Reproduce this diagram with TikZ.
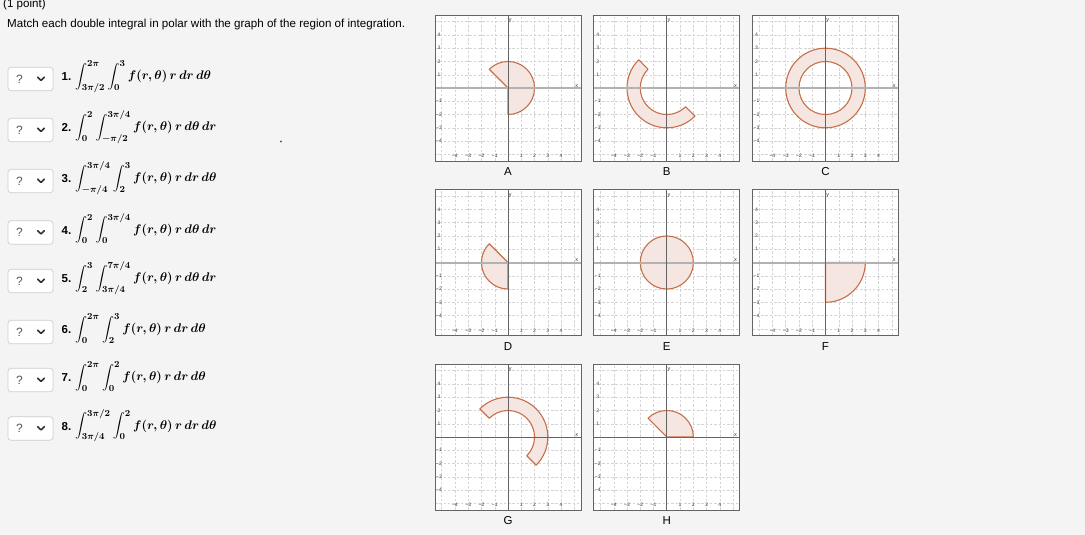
\RequirePackage{fix-cm}
\documentclass[tikz,border=0pt]{standalone}
\usepackage[no-math]{fontspec}
\setmainfont{Liberation Sans}
\usepackage{amsmath}
\DeclareMathSizes{12.5}{12.5}{9.2}{7}
\definecolor{pagebg}{RGB}{244,244,244}
\definecolor{gridc}{RGB}{212,212,212}
\definecolor{framec}{RGB}{100,100,100}
\definecolor{yaxc}{RGB}{100,100,100}
\definecolor{xaxc}{RGB}{178,178,178}
\definecolor{regfill}{RGB}{246,230,225}
\definecolor{regline}{RGB}{198,112,74}
\definecolor{tickc}{RGB}{60,60,60}
\definecolor{ddline}{RGB}{205,205,205}
\definecolor{qcol}{RGB}{85,85,85}
\definecolor{chevc}{RGB}{50,50,50}
\definecolor{dotc}{RGB}{60,100,200}
\tikzset{
  gridln/.style={draw=gridc,line width=0.45pt,dash pattern=on 2.5pt off 1.8pt},
  framebox/.style={draw=framec,line width=0.8pt},
  yaxisln/.style={draw=yaxc,line width=0.8pt},
  xaxisgrey/.style={draw=xaxc,line width=2pt},
  region/.style={fill=regfill,draw=regline,line width=1.1pt,line join=round},
  ticklbl/.style={font=\fontsize{5}{5}\selectfont,text=tickc,inner sep=0pt},
  axlbl/.style={font=\fontsize{5.5}{5.5}\selectfont,text=tickc,inner sep=0pt},
  letterlbl/.style={font=\fontsize{11.5}{13}\selectfont,inner sep=0pt},
  ddbox/.style={draw=ddline,fill=white,rounded corners=3pt,line width=0.7pt,minimum width=45pt,minimum height=23.5pt,inner sep=0pt},
  qmark/.style={font=\fontsize{12}{14}\selectfont,text=qcol,inner sep=0pt},
  chev/.style={draw=chevc,line width=1.6pt,line cap=round,line join=round},
  numlbl/.style={font=\bfseries\fontsize{11.5}{13}\selectfont,inner sep=0pt,anchor=base west},
  intlbl/.style={font=\fontsize{12.5}{14}\selectfont\boldmath,inner sep=0pt,anchor=base west},
  titletxt/.style={font=\fontsize{11.6}{14}\selectfont,inner sep=0pt,anchor=base west}
}
\newcommand\pgraph[5]{%
\begin{scope}[shift={(#1,#2)},x=13.27pt,y=13.27pt]
  \fill[white] (-5.5,-5.5) rectangle (5.5,5.5);
  \foreach \i in {-5,-4,-3,-2,-1,1,2,3,4,5}{
    \draw[gridln] (\i,-5.5) -- (\i,5.5);
    \draw[gridln] (-5.5,\i) -- (5.5,\i);
  }
  #4
  \draw[#5] (-5.5,0) -- (5.5,0);
  \draw[yaxisln] (0,-5.5) -- (0,5.5);
  \draw[framebox] (-5.5,-5.5) rectangle (5.5,5.5);
  \foreach \i/\t in {-4/−4,-3/−3,-2/−2,-1/−1,1/1,2/2,3/3,4/4}{
    \node[ticklbl] (#3x\i) at (\i,-5.12) {\t};
    \node[ticklbl] (#3y\i) at (-5.2,\i) {\t};
  }
  \node[axlbl] (#3xl) at (5.18,0.18) {x};
  \node[axlbl] (#3yl) at (0.17,5.07) {y};
  \node[letterlbl] (#3lbl) at (0,-6.33) {#3};
\end{scope}}
\begin{document}
\begin{tikzpicture}[x=1pt,y=-1pt]
\fill[pagebg] (0,0) rectangle (1085,535);
\useasboundingbox (0,0) rectangle (1085,535);
% header
\node[titletxt] (pts) at (3,7.5) {(1 point)};
\node[titletxt] (title) at (7,27.3) {Match each double integral in polar with the graph of the region of integration.};
\fill[dotc] (281,141.5) circle (1.1);
% rows
\foreach \n/\c in {1/79,2/130,3/181,4/232.5,5/281,6/332,7/380,8/428.5}{
  \node[ddbox] (dd\n) at (30.5,\c) {};
  \node[qmark] (q\n) at (19.5,\c) {?};
  \draw[chev] (37.8,\c-1.8) -- (41,\c+1.4) -- (44.2,\c-1.8);
  \node[numlbl] (num\n) at (61.5,\c+1.6) {\n.};
}
\node[intlbl] (i1) at (75,79.5) {$\displaystyle\int_{3\pi/2}^{2\pi}\int_{0}^{3} f(r,\theta)\,r\,dr\,d\theta$};
\node[intlbl] (i2) at (75,130.5) {$\displaystyle\int_{0}^{2}\int_{-\pi/2}^{3\pi/4} f(r,\theta)\,r\,d\theta\,dr$};
\node[intlbl] (i3) at (75,181.5) {$\displaystyle\int_{-\pi/4}^{3\pi/4}\int_{2}^{3} f(r,\theta)\,r\,dr\,d\theta$};
\node[intlbl] (i4) at (75,233) {$\displaystyle\int_{0}^{2}\int_{0}^{3\pi/4} f(r,\theta)\,r\,d\theta\,dr$};
\node[intlbl] (i5) at (75,281.5) {$\displaystyle\int_{2}^{3}\int_{3\pi/4}^{7\pi/4} f(r,\theta)\,r\,d\theta\,dr$};
\node[intlbl] (i6) at (75,332.5) {$\displaystyle\int_{0}^{2\pi}\int_{2}^{3} f(r,\theta)\,r\,dr\,d\theta$};
\node[intlbl] (i7) at (75,380.5) {$\displaystyle\int_{0}^{2\pi}\int_{0}^{2} f(r,\theta)\,r\,dr\,d\theta$};
\node[intlbl] (i8) at (75,429) {$\displaystyle\int_{3\pi/4}^{3\pi/2}\int_{0}^{2} f(r,\theta)\,r\,dr\,d\theta$};
% graphs
\pgraph{508}{88}{A}{\draw[region] (0,0) -- (-90:2) arc[start angle=-90,end angle=135,radius=2] -- cycle;}{xaxisgrey}
\pgraph{666.8}{88}{B}{\draw[region] (135:2) -- (135:3) arc[start angle=135,end angle=315,radius=3] -- (315:2) arc[start angle=315,end angle=135,radius=2] -- cycle;}{xaxisgrey}
\pgraph{825.5}{88}{C}{\draw[region,even odd rule] (0,0) circle[radius=3] (0,0) circle[radius=2];}{xaxisgrey}
\pgraph{508}{262.5}{D}{\draw[region] (0,0) -- (135:2) arc[start angle=135,end angle=270,radius=2] -- cycle;}{xaxisgrey}
\pgraph{666.8}{262.5}{E}{\draw[region] (0,0) circle[radius=2];}{xaxisgrey}
\pgraph{825.5}{262.5}{F}{\draw[region] (0,0) -- (270:3) arc[start angle=270,end angle=360,radius=3] -- cycle;}{xaxisgrey}
\pgraph{508}{437}{G}{\draw[region] (-45:2) -- (-45:3) arc[start angle=-45,end angle=135,radius=3] -- (135:2) arc[start angle=135,end angle=-45,radius=2] -- cycle;}{yaxisln}
\pgraph{666.8}{437}{H}{\draw[region] (0,0) -- (0:2) arc[start angle=0,end angle=135,radius=2] -- cycle;}{yaxisln}
\end{tikzpicture}
\end{document}
